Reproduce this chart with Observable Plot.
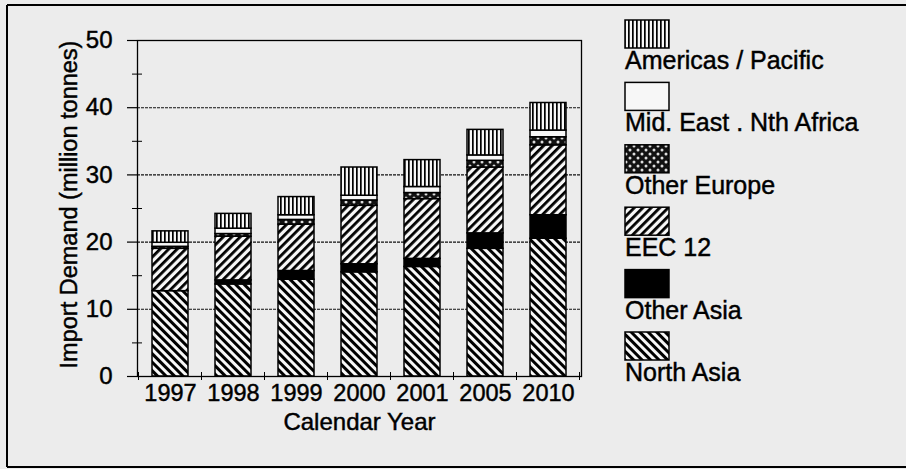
<!DOCTYPE html>
<html>
<head>
<meta charset="utf-8">
<script src="https://cdn.jsdelivr.net/npm/d3@7"></script>
<script src="https://cdn.jsdelivr.net/npm/@observablehq/plot@0.6"></script>
<style>
  html, body { margin: 0; padding: 0; background: #ececec; }
  #chart svg { display: block; }
  #chart svg text { stroke: black; stroke-width: 0.45px; }
</style>
</head>
<body>
<div id="chart"></div>
<script>
// ---- Data (million tonnes) ----
const years = ["1997", "1998", "1999", "2000", "2001", "2005", "2010"];
const seriesNames = ["North Asia", "Other Asia", "EEC 12", "Other Europe", "Mid. East . Nth Africa", "Americas / Pacific"];
const northAsia   = [12.7, 13.7, 14.4, 15.5, 16.3, 19.0, 20.5];
const otherAsia   = [0.0, 0.6, 1.3, 1.2, 1.2, 2.3, 3.5];
const eec12       = [6.3, 6.5, 6.9, 8.7, 8.9, 9.8, 10.4];
const otherEurope = [0.3, 0.4, 0.7, 0.8, 0.9, 1.0, 1.2];
const midEast     = [0.6, 0.8, 0.7, 0.7, 0.9, 0.8, 1.0];
const americas    = [1.7, 2.2, 2.7, 4.2, 4.0, 3.8, 4.1];
const yTicks = [0, 10, 20, 30, 40, 50];
const yMinorTicks = [5, 15, 25, 35, 45];
const gridTicks = [10, 20, 30, 40];
const legendOrder = ["Americas / Pacific", "Mid. East . Nth Africa", "Other Europe", "EEC 12", "Other Asia", "North Asia"];

const seriesValues = [northAsia, otherAsia, eec12, otherEurope, midEast, americas];
const fills = ["url(#p-na)", "black", "url(#p-eec)", "url(#p-oe)", "#f7f7f7", "url(#p-am)"];
const fillOf = Object.fromEntries(seriesNames.map((s, i) => [s, fills[i]]));

const data = years.flatMap((yr, i) =>
  seriesNames.map((s, j) => ({year: yr, series: s, value: seriesValues[j][i]}))
).filter(d => d.value > 0);

const font = "'Liberation Sans', Arial, Helvetica, sans-serif";

const fig = Plot.plot({
  width: 906,
  height: 469,
  marginLeft: 137,
  marginRight: 325,
  marginTop: 40,
  marginBottom: 93,
  style: {fontFamily: font, background: "#ececec", color: "black", overflow: "visible"},
  x: {type: "band", domain: years, paddingInner: 0.43, paddingOuter: 0.215},
  y: {domain: [0, 50]},
  color: {type: "ordinal", domain: seriesNames, range: fills},
  marks: [
    Plot.gridY(gridTicks, {stroke: "#111", strokeOpacity: 1, strokeWidth: 1.1, strokeDasharray: "3,1"}),
    Plot.barY(data, {x: "year", y: "value", fill: "series", stroke: "black", strokeWidth: 1.5}),
    Plot.frame({stroke: "black", strokeWidth: 1.3}),
    Plot.axisY(yTicks, {tickSize: 10, tickPadding: 15, fontSize: 24, label: null, strokeWidth: 1.2}),
    Plot.axisY(yMinorTicks, {tickSize: 10, dx: 5, text: null, label: null, strokeWidth: 1}),
    Plot.axisX({tickSize: 0, tickPadding: 8, fontSize: 23.5, label: null}),
    Plot.text(["Calendar Year"], {frameAnchor: "bottom", dy: 46, fontSize: 24, lineAnchor: "middle", fill: "black"}),
    Plot.text(["Import Demand (million tonnes)"], {frameAnchor: "left", textAnchor: "middle", lineAnchor: "middle", rotate: -90, dx: -68, dy: -4, fontSize: 23.5, fill: "black"})
  ]
});

document.getElementById("chart").appendChild(fig);

// ---- patterns ----
const svg = d3.select(fig);
const defs = svg.insert("defs", ":first-child");
function hatch(id, angle, period, lineW) {
  const p = defs.append("pattern").attr("id", id)
    .attr("patternUnits", "userSpaceOnUse")
    .attr("width", period).attr("height", period)
    .attr("patternTransform", `rotate(${angle})`);
  p.append("rect").attr("width", period).attr("height", period).attr("fill", "#f7f7f7");
  p.append("rect").attr("x", 0).attr("y", 0).attr("width", lineW).attr("height", period).attr("fill", "black");
}
hatch("p-na", -45, 6, 3);
hatch("p-eec", 45, 6, 2.8);
hatch("p-am", 0, 4, 1.7);
{
  const p = defs.append("pattern").attr("id", "p-oe")
    .attr("patternUnits", "userSpaceOnUse").attr("width", 8).attr("height", 8);
  p.append("rect").attr("width", 8).attr("height", 8).attr("fill", "#111");
  p.append("circle").attr("cx", 2).attr("cy", 2).attr("r", 1.5).attr("fill", "#ddd");
  p.append("circle").attr("cx", 6).attr("cy", 6).attr("r", 1.5).attr("fill", "#ddd");
}

// ---- category boundary ticks on the x axis, from Plot's own scales ----
const xs = fig.scale("x");
const ys = fig.scale("y");
const y0 = ys.apply(0);
const gap = (xs.step - xs.bandwidth) / 2;
const bounds = years.map(yr => xs.apply(yr) - gap);
bounds.push(xs.apply(years[years.length - 1]) + xs.bandwidth + gap);
svg.append("g").selectAll("line").data(bounds).join("line")
  .attr("x1", d => d).attr("x2", d => d)
  .attr("y1", y0 - 4).attr("y2", y0 + 4)
  .attr("stroke", "black").attr("stroke-width", 1);

// ---- legend ----
const lg = svg.append("g").attr("font-family", font).attr("font-size", 25).attr("text-anchor", "start");
legendOrder.forEach((name, i) => {
  const top = 20 + i * 62.4;
  lg.append("rect").attr("x", 625).attr("y", top).attr("width", 44).attr("height", 28)
    .attr("fill", fillOf[name]).attr("stroke", "black").attr("stroke-width", 1.5);
  lg.append("text").attr("x", 625).attr("y", top + 49).attr("fill", "black").text(name);
});

// ---- figure border (scan frame) ----
const border = svg.append("g").attr("stroke", "black").attr("stroke-width", 2);
border.append("line").attr("x1", 7).attr("x2", 7).attr("y1", 5).attr("y2", 467);
border.append("line").attr("x1", 7).attr("x2", 906).attr("y1", 5).attr("y2", 5);
border.append("line").attr("x1", 7).attr("x2", 906).attr("y1", 467).attr("y2", 467);
</script>
</body>
</html>
